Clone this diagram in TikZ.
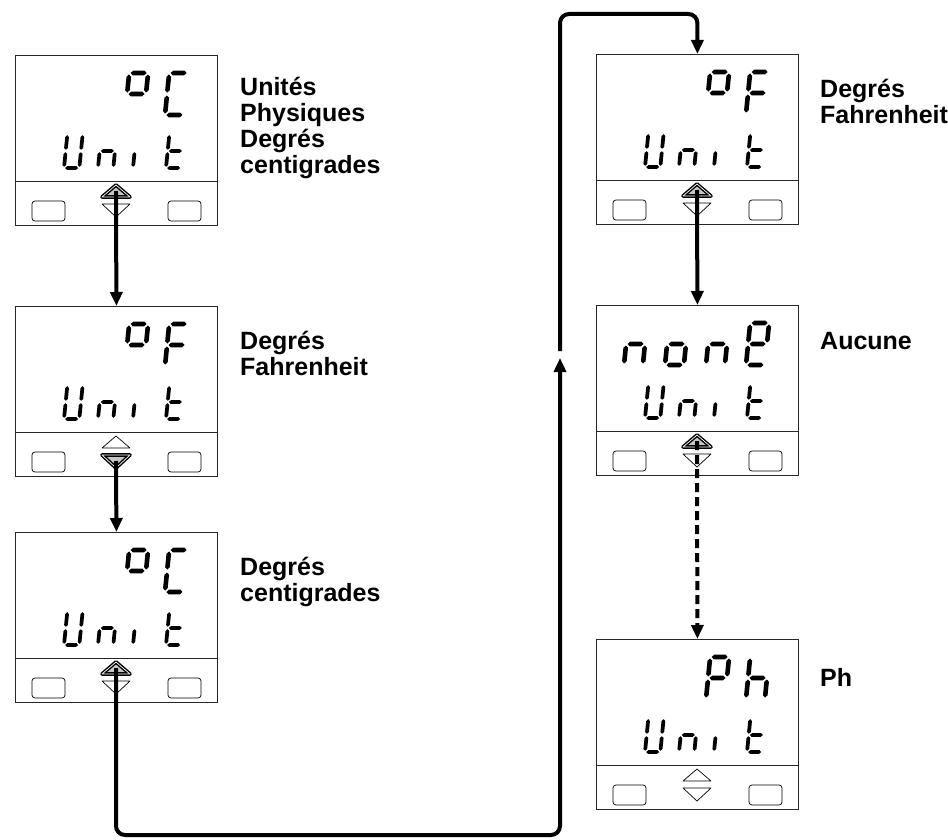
\documentclass[tikz,border=0pt]{standalone}
\usepackage{fontspec}
\setmainfont{Liberation Sans}
\usetikzlibrary{arrows.meta}

\tikzset{
  panel/.style={draw=black!85, line width=0.8pt},
  softkey/.style={draw, line width=0.7pt, rounded corners=3pt},
  keyoff/.style={draw, line width=0.7pt, line join=round, fill=white},
  keyon/.style={draw, line width=3.6pt, line join=round, fill=gray!45,
    postaction={draw=white, line width=0.7pt, line join=round}},
  flow/.style={line width=4pt, rounded corners=9pt, -{Triangle[length=14pt,width=12pt]}},
  unitlabel/.style={anchor=north west, inner sep=0pt, align=left,
    font=\fontsize{25}{26}\selectfont\bfseries},
}

% segment bars with pointed ends, in the units of one character
\newcommand{\hseg}[2]{\fill (#1,#2) -- ++(0.055,0.055) -- ++(0.27,0)
  -- ++(0.055,-0.055) -- ++(-0.055,-0.055) -- ++(-0.27,0) -- cycle;}
\newcommand{\vseg}[2]{\fill (#1,#2) -- ++(0.055,0.055) -- ++(0,0.32)
  -- ++(-0.055,0.055) -- ++(-0.055,-0.055) -- ++(0,-0.32) -- cycle;}
\newcommand{\lcdsega}{\hseg{0.035}{1}}
\newcommand{\lcdsegg}{\hseg{0.035}{0.5}}
\newcommand{\lcdsegd}{\hseg{0.035}{0}}
\newcommand{\lcdsegb}{\vseg{0.45}{0.535}}
\newcommand{\lcdsegc}{\vseg{0.45}{0.035}}
\newcommand{\lcdsege}{\vseg{0}{0.035}}
\newcommand{\lcdsegf}{\vseg{0}{0.535}}

% one seven-segment character: lower left corner, height, segments
\newcommand{\lcdchar}[4]{%
  \begin{scope}[shift={(#1,#2)}, x={(#3pt,0pt)}, y={(0.1*#3pt,#3pt)}]
    \foreach \s in {#4} {\csname lcdseg\s\endcsname}
  \end{scope}}

% the "Unit" line of a display, top left corner of the display
\newcommand{\unitrow}[2]{%
  \lcdchar{#1+49}{#2+113}{34}{f,e,d,c,b}
  \lcdchar{#1+83}{#2+113}{34}{e,g,c}
  \lcdchar{#1+118}{#2+113}{34}{e}
  \lcdchar{#1+151}{#2+113}{34}{f,e,d,g}}

% display frame with keys: top left, name, style of up key, style of down key
\newcommand{\lcdpanel}[5]{%
  \node[panel, anchor=north west, minimum width=202pt, minimum height=170pt,
    inner sep=0pt] (#3) at (#1,#2) {};
  \draw[panel] (#1,#2+126) -- (#1+202,#2+126);
  \draw[softkey] (#1+17,#2+146) rectangle (#1+50,#2+166);
  \draw[softkey] (#1+153,#2+146) rectangle (#1+186,#2+166);
  \draw[#4] (#1+87,#2+142) -- (#1+101,#2+130) -- (#1+115,#2+142) -- cycle;
  \draw[#5] (#1+87,#2+149) -- (#1+101,#2+162) -- (#1+115,#2+149) -- cycle;
  \coordinate (#3-up) at (#1+101,#2+136);
  \coordinate (#3-dn) at (#1+101,#2+155);
  \unitrow{#1}{#2}}

\begin{document}
\begin{tikzpicture}[x=1pt, y=-1pt]
  \useasboundingbox (0,0) rectangle (948,840);

  % Degrees centigrade (first)
  \lcdpanel{15}{55}{celsA}{keyon}{keyoff}
  \lcdchar{15+110}{55+60}{42}{a,b,f,g}
  \lcdchar{15+150}{55+60}{42}{a,f,e,d}
  \node[unitlabel] (lblCelsA) at (240,77) {Unités\\Physiques\\Degrés\\centigrades};

  % Degrees Fahrenheit
  \lcdpanel{15}{306}{fahrA}{keyoff}{keyon}
  \lcdchar{15+110}{306+60}{42}{a,b,f,g}
  \lcdchar{15+150}{306+60}{42}{a,f,e,g}
  \node[unitlabel] (lblFahrA) at (240,331) {Degrés\\Fahrenheit};

  % Degrees centigrade (again)
  \lcdpanel{15}{532}{celsB}{keyon}{keyoff}
  \lcdchar{15+110}{532+60}{42}{a,b,f,g}
  \lcdchar{15+150}{532+60}{42}{a,f,e,d}
  \node[unitlabel] (lblCelsB) at (240,557) {Degrés\\centigrades};

  % Degrees Fahrenheit (right column)
  \lcdpanel{596}{54}{fahrB}{keyon}{keyoff}
  \lcdchar{596+110}{54+60}{42}{a,b,f,g}
  \lcdchar{596+150}{54+60}{42}{a,f,e,g}
  \node[unitlabel] (lblFahrB) at (820,79) {Degrés\\Fahrenheit};

  % No unit
  \lcdpanel{596}{305}{noneA}{keyon}{keyoff}
  \lcdchar{596+28}{305+60}{42}{e,g,c}
  \lcdchar{596+69}{305+60}{42}{e,g,c,d}
  \lcdchar{596+110}{305+60}{42}{e,g,c}
  \lcdchar{596+150}{305+60}{42}{a,b,f,g,e,d}
  \node[unitlabel] (lblNone) at (820,332) {Aucune};

  % pH
  \lcdpanel{596}{639}{phA}{keyoff}{keyoff}
  \lcdchar{596+110}{639+60}{42}{a,b,f,g,e}
  \lcdchar{596+150}{639+60}{42}{f,e,g,c}
  \node[unitlabel] (lblPh) at (820,668) {Ph};

  % connectors
  \coordinate (turnB) at (116,835);
  \coordinate (gapLow) at (560,358);
  \coordinate (gapHigh) at (560,351);
  \coordinate (turnT) at (560,14);
  \draw[flow] (celsA-up) -- (fahrA.north);
  \draw[flow] (fahrA-dn) -- (celsB.north);
  \draw[flow] (celsB-up) -- (turnB) -- (turnB -| gapLow) -- (gapLow);
  \draw[flow] (gapHigh) -- (turnT) -- (turnT -| fahrB.north) -- (fahrB.north);
  \draw[flow] (fahrB-up) -- (noneA.north);
  \draw[flow, dash pattern=on 9pt off 5pt] (noneA-up) -- (phA.north);
\end{tikzpicture}
\end{document}
